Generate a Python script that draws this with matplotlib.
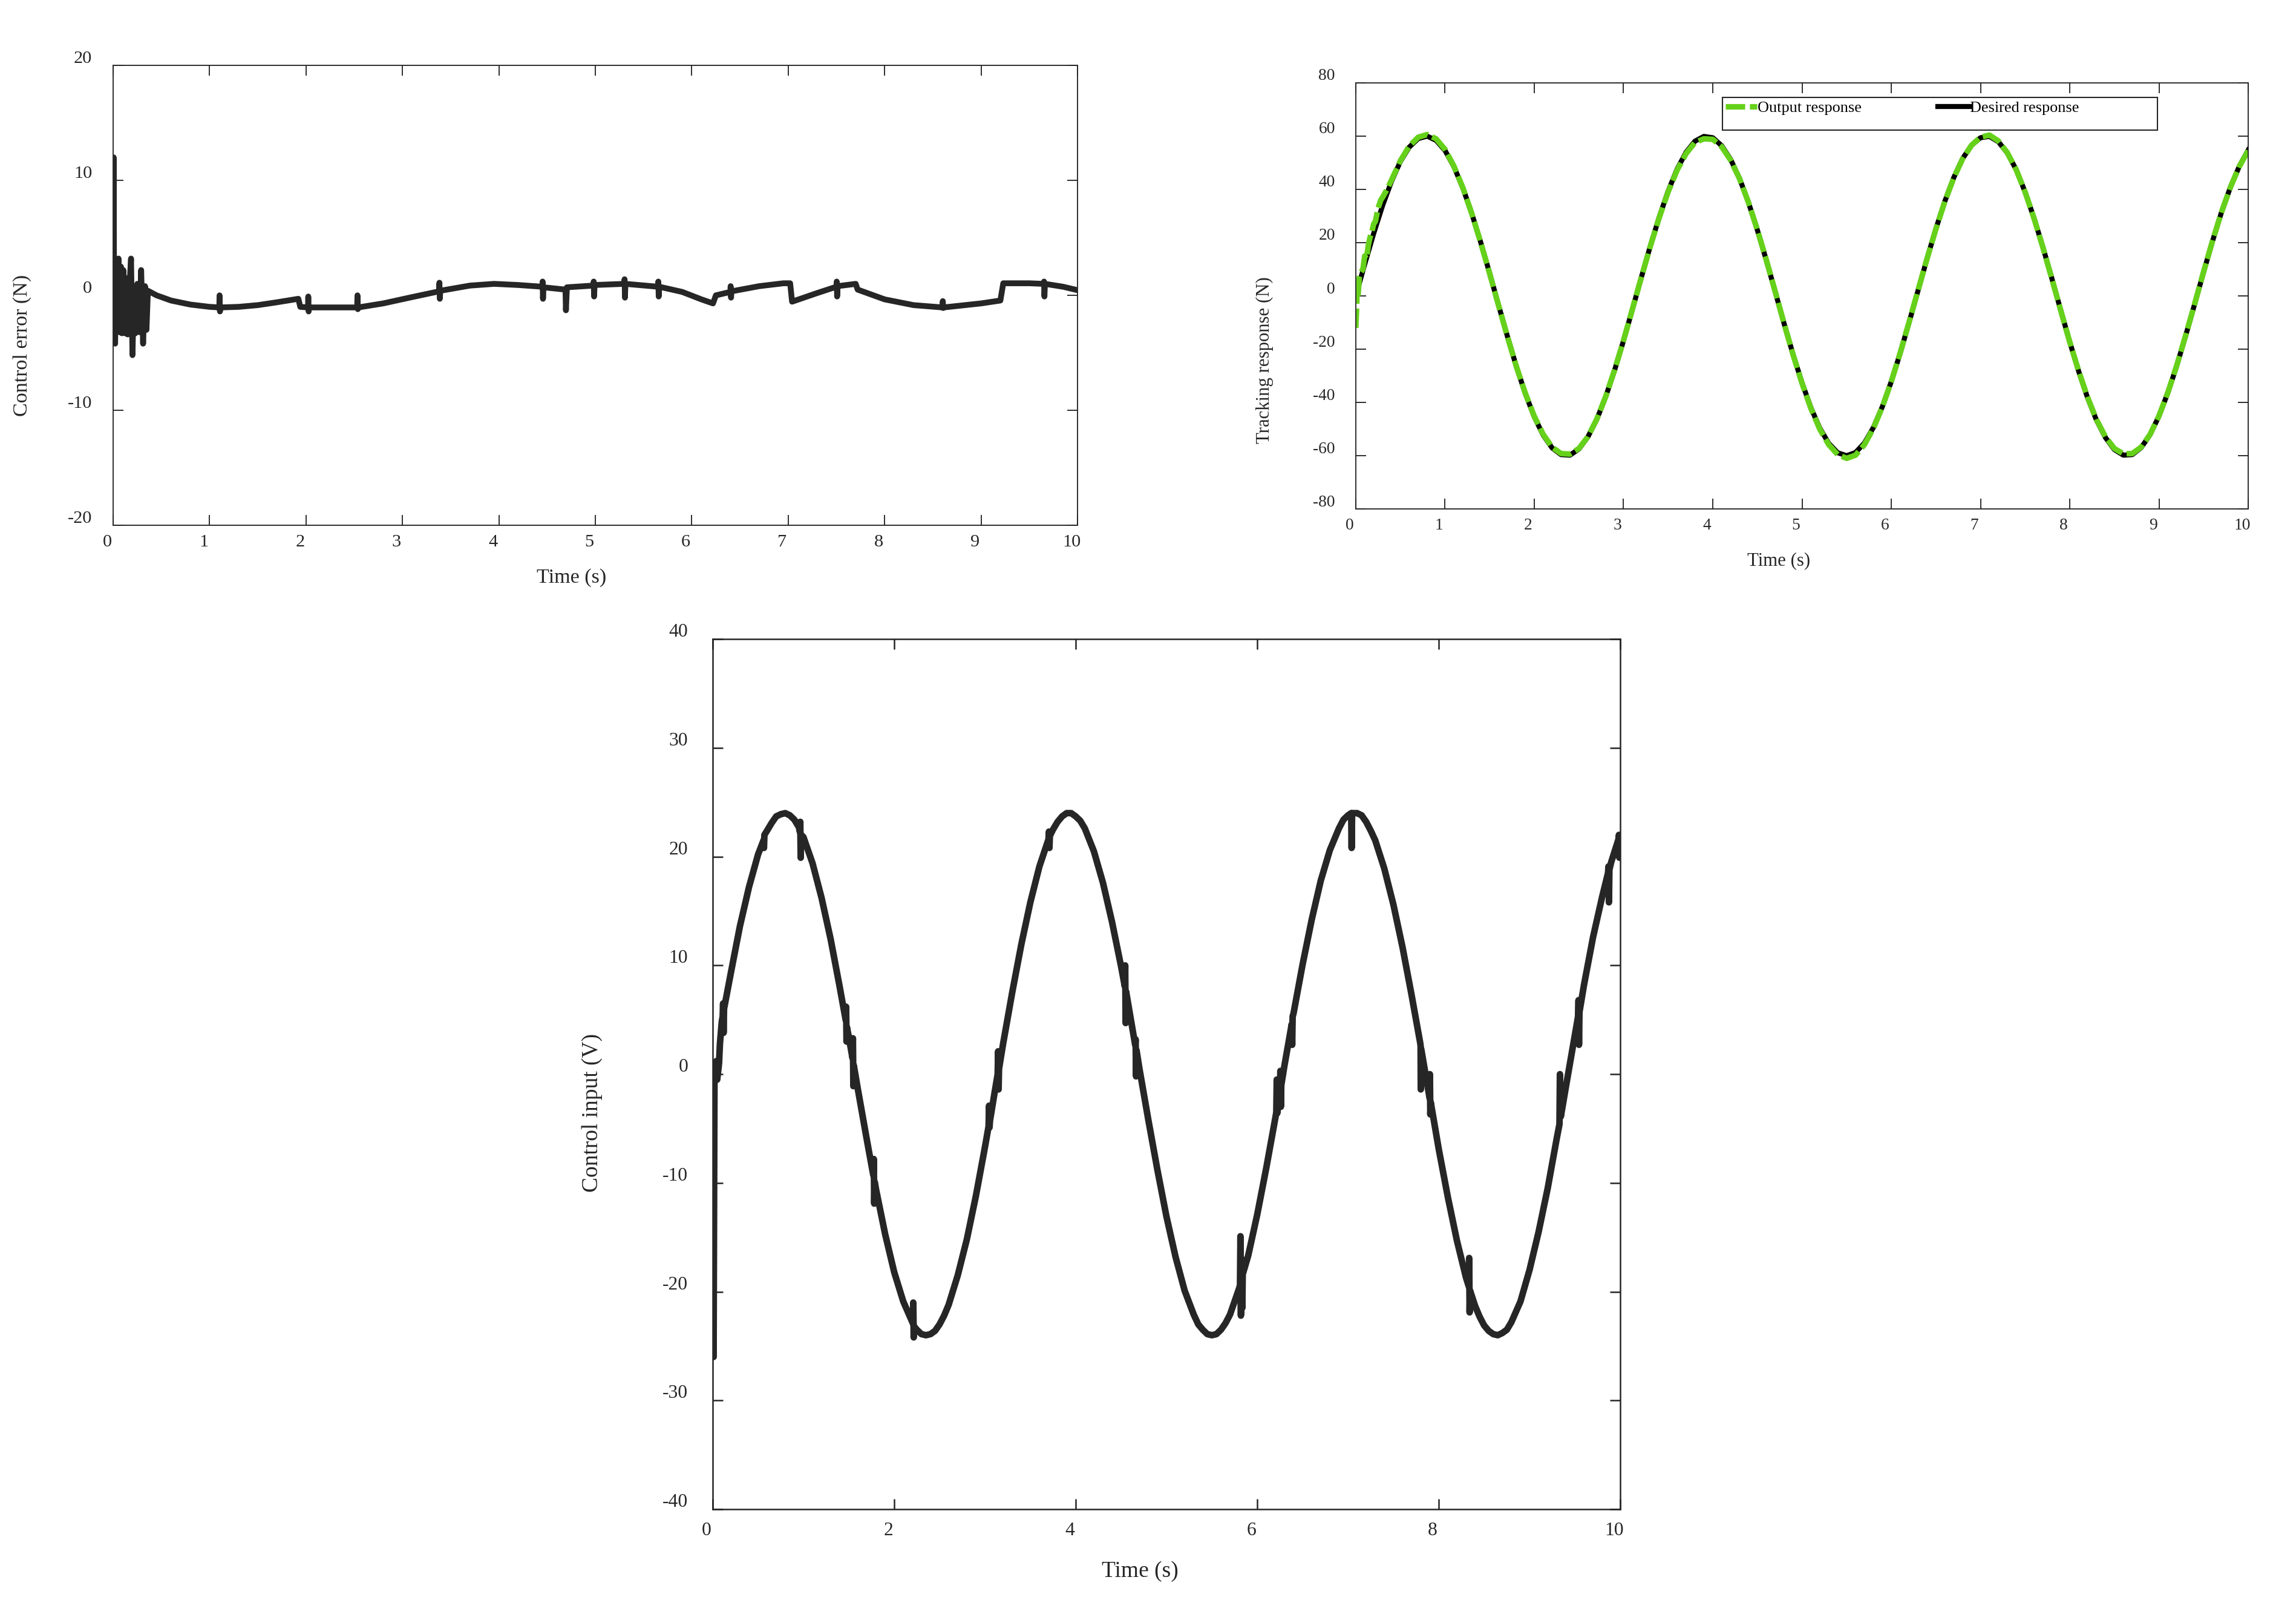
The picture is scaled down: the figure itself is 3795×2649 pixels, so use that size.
import numpy as np
import matplotlib
matplotlib.use('Agg')
import matplotlib.pyplot as plt
import matplotlib.transforms as mtransforms
from matplotlib.patches import Rectangle

plt.rcParams['font.family'] = ['Liberation Serif', 'DejaVu Serif']
plt.rcParams['axes.unicode_minus'] = False

ink = '#262626'
green = '#66d11a'

# ---- control error (top left) ----
err_time = [0.000, 0.005, 0.010, 0.020, 0.030, 0.040, 0.055, 0.065, 0.080, 0.090,
            0.105, 0.120, 0.135, 0.150, 0.170, 0.185, 0.200, 0.215, 0.230, 0.250,
            0.270, 0.290, 0.310, 0.330, 0.345, 0.360, 0.45, 0.6, 0.8, 1.0,
            1.100, 1.103, 1.107, 1.112, 1.3, 1.5, 1.7, 1.92, 1.94, 2.02,
            2.023, 2.027, 2.032, 2.3, 2.530, 2.533, 2.537, 2.542, 2.8, 3.1,
            3.380, 3.383, 3.387, 3.392, 3.7, 3.95, 4.2, 4.450, 4.453, 4.457,
            4.462, 4.69, 4.695, 4.705, 4.98, 4.983, 4.987, 4.992, 5.3, 5.303,
            5.307, 5.312, 5.65, 5.653, 5.657, 5.662, 5.9, 6.1, 6.22, 6.25,
            6.4, 6.403, 6.407, 6.412, 6.7, 6.95, 7.02, 7.04, 7.3, 7.5,
            7.503, 7.507, 7.512, 7.7, 7.72, 8.0, 8.3, 8.6, 8.603, 8.607,
            8.612, 9.0, 9.2, 9.23, 9.5, 9.65, 9.653, 9.657, 9.662, 9.85, 10.0]
err_value = [0.0, 12.0, -3.0, -4.2, 2.0, -3.2, 3.2, -3.2, 2.5, -3.3,
             2.2, -3.3, 1.5, -3.4, 1.0, 3.2, -5.2, 0.5, -3.3, 1.0,
             -3.2, 2.2, -4.2, 0.8, -3.0, 0.4, 0.0, -0.45, -0.8, -1.0,
             -1.05, 0.0, -1.4, -1.05, -1.0, -0.85, -0.6, -0.3, -1.0, -1.05,
             -0.1, -1.4, -1.05, -1.05, -1.05, 0.0, -1.2, -1.05, -0.7, -0.15,
             0.35, 1.1, -0.3, 0.4, 0.85, 1.0, 0.9, 0.75, 1.2, -0.3,
             0.7, 0.5, -1.3, 0.7, 0.85, 1.2, -0.1, 0.9, 1.0, 1.4,
             -0.2, 1.0, 0.75, 1.2, -0.1, 0.75, 0.3, -0.35, -0.7, 0.0,
             0.3, 0.8, -0.2, 0.35, 0.8, 1.05, 1.05, -0.55, 0.2, 0.75,
             1.2, -0.1, 0.8, 1.0, 0.5, -0.35, -0.85, -1.05, -0.5, -1.1,
             -1.05, -0.7, -0.45, 1.05, 1.05, 1.0, 1.2, -0.1, 1.0, 0.75, 0.45]

# ---- tracking response (top right) ----
grid_time = np.linspace(0, 10, 101)
desired = [0.0, 11.9, 23.4, 33.9, 43.0, 50.5, 55.9, 59.1, 60.0, 58.4,
           54.6, 48.5, 40.5, 30.9, 20.1, 8.5, -3.5, -15.3, -26.6, -36.7,
           -45.4, -52.3, -57.1, -59.6, -59.8, -57.5, -53.0, -46.4, -37.9, -27.9,
           -16.8, -5.0, 7.0, 18.7, 29.6, 39.4, 47.6, 53.9, 58.1, 59.9,
           59.4, 56.4, 51.3, 44.1, 35.1, 24.7, 13.4, 1.5, -10.5, -22.0,
           -32.6, -42.0, -49.7, -55.4, -58.9, -60.0, -58.8, -55.2, -49.4, -41.6,
           -32.2, -21.5, -9.9, 2.0, 13.9, 25.2, 35.5, 44.4, 51.6, 56.6,
           59.4, 59.9, 57.9, 53.7, 47.4, 39.0, 29.2, 18.2, 6.5, -5.5,
           -17.3, -28.3, -38.3, -46.7, -53.2, -57.7, -59.8, -59.6, -57.0, -52.1,
           -45.1, -36.3, -26.1, -14.8, -3.0, 9.0, 20.6, 31.4, 40.8, 48.7, 54.8]

out_time_start = [0.0, 0.01, 0.015, 0.025, 0.04, 0.06, 0.08, 0.1, 0.12, 0.14,
                  0.16, 0.18, 0.2, 0.22, 0.25, 0.28, 0.3, 0.35, 0.4]
out_value_start = [-12.0, -4.0, 3.0, 0.0, 7.0, 9.0, 10.0, 15.0, 14.0, 19.0,
                   22.0, 24.0, 27.0, 28.0, 33.0, 36.0, 37.0, 40.0, 43.5]
out_value_rest = [50.8, 56.3, 59.6, 60.6, 59.0, 55.0, 48.7, 40.6, 30.9, 20.0,
                  8.4, -3.6, -15.4, -26.6, -36.6, -45.2, -52.0, -56.8, -59.2, -59.4,
                  -57.3, -52.9, -46.3, -37.8, -27.8, -16.7, -4.9, 7.0, 18.6, 29.4,
                  39.1, 47.2, 53.4, 57.6, 59.0, 58.8, 56.0, 51.0, 44.0, 35.1,
                  24.8, 13.5, 1.6, -10.5, -22.1, -32.8, -42.3, -50.1, -55.9, -59.6,
                  -61.0, -59.8, -55.8, -49.7, -41.7, -32.2, -21.4, -9.8, 2.1, 13.9,
                  25.1, 35.4, 44.3, 51.5, 56.6, 59.6, 60.4, 58.2, 53.8, 47.4,
                  39.0, 29.1, 18.1, 6.4, -5.6, -17.3, -28.2, -38.1, -46.5, -52.9,
                  -57.3, -59.3, -59.2, -56.8, -52.0, -45.0, -36.2, -26.0, -14.7, -2.9,
                  9.1, 20.7, 31.4, 40.8, 48.6, 54.6]
out_time = np.concatenate([out_time_start, grid_time[5:]])
out_value = np.concatenate([out_value_start, out_value_rest])

# ---- control input (bottom) ----
u_grid = [0.0, 4.8, 9.3, 13.6, 17.2, 20.2, 22.4, 23.7, 24.0, 23.4,
          21.8, 19.4, 16.2, 12.4, 8.0, 3.4, -1.4, -6.1, -10.6, -14.7,
          -18.2, -20.9, -22.8, -23.9, -23.9, -23.0, -21.2, -18.5, -15.2, -11.2,
          -6.7, -2.0, 2.8, 7.5, 11.9, 15.8, 19.1, 21.6, 23.2, 24.0,
          23.7, 22.6, 20.5, 17.6, 14.0, 9.9, 5.4, 0.6, -4.2, -8.8,
          -13.1, -16.8, -19.9, -22.1, -23.5, -24.0, -23.5, -22.1, -19.7, -16.7,
          -12.9, -8.6, -4.0, 0.8, 5.6, 10.1, 14.2, 17.8, 20.6, 22.6,
          23.8, 24.0, 23.2, 21.5, 18.9, 15.6, 11.7, 7.3, 2.6, -2.2,
          -6.9, -11.3, -15.3, -18.7, -21.3, -23.1, -23.9, -23.8, -22.8, -20.9,
          -18.0, -14.5, -10.5, -5.9, -1.2, 3.6, 8.2, 12.6, 16.3, 19.5, 21.9]
# extra readings around the crests and troughs
crest_time = [0.65, 0.75, 0.85, 0.95, 2.25, 2.35, 2.45, 2.55,
              3.75, 3.85, 3.95, 4.05, 5.35, 5.45, 5.55, 5.65,
              6.95, 7.05, 7.15, 7.25, 8.45, 8.55, 8.65, 8.75]
crest_value = [23.1, 23.9, 23.8, 22.7, -23.5, -24.0, -23.6, -22.2,
               22.5, 23.7, 24.0, 23.3, -23.0, -23.9, -23.9, -22.9,
               23.4, 24.0, 23.8, 22.4, -22.3, -23.6, -24.0, -23.5]
glitch_time = [0.01, 0.02, 0.04, 0.05, 0.07, 0.08, 0.11, 0.115, 0.12, 0.125,
               0.56, 0.565, 0.57, 0.96, 0.965, 0.97, 0.975,
               1.465, 1.47, 1.475, 1.48, 1.54, 1.545, 1.55, 1.555,
               1.77, 1.775, 1.78, 1.785, 2.205, 2.21, 2.215, 2.22,
               3.04, 3.045, 3.05, 3.055, 3.14, 3.145, 3.15, 3.155,
               3.7, 3.705, 3.71, 3.715, 4.54, 4.545, 4.55, 4.555,
               4.655, 4.66, 4.665, 4.67, 5.81, 5.815, 5.82, 5.825, 5.83, 5.835, 5.84,
               6.21, 6.215, 6.22, 6.25, 6.255, 6.26, 6.265, 6.38, 6.385, 6.39,
               7.035, 7.04, 7.045, 7.795, 7.802, 7.807, 7.895, 7.902, 7.907, 7.912,
               8.33, 8.335, 8.34, 8.345, 9.33, 9.335, 9.34, 9.345,
               9.535, 9.54, 9.545, 9.55, 9.865, 9.87, 9.875, 9.88,
               9.98, 9.985, 9.99, 9.995]
glitch_value = [-26.0, 0.0, 1.2, -0.5, 1.0, 2.8, 5.3, 6.5, 3.8, 6.0,
                21.5, 20.8, 22.0, 22.3, 23.2, 19.9, 22.0,
                5.0, 6.2, 3.0, 4.3, 1.5, 3.3, -1.1, 0.8,
                -9.3, -7.8, -11.9, -9.9, -22.9, -21.0, -24.2, -23.2,
                -4.8, -2.9, -4.9, -4.3, 0.0, 2.1, -1.4, 0.5,
                21.6, 22.3, 20.8, 21.9, 8.1, 10.0, 4.7, 7.6,
                2.7, 3.2, -0.2, 2.2, -19.4, -14.9, -22.2, -18.6, -17.0, -21.5, -18.4,
                -3.5, -0.5, -3.6, -1.6, 0.3, -3.0, -1.0, 4.6, 2.7, 5.3,
                24.0, 20.8, 23.9, 2.9, -1.4, 2.3, -2.0, 0.0, -3.7, -2.6,
                -19.5, -16.9, -21.9, -19.9, -4.6, 0.0, -3.2, -3.9,
                5.3, 6.8, 2.7, 5.7, 18.5, 19.1, 15.8, 18.8,
                21.6, 22.0, 19.9, 21.5]
u_time = np.concatenate([grid_time, crest_time, glitch_time])
u_value = np.concatenate([u_grid, crest_value, glitch_value])
order = np.argsort(u_time, kind='stable')
u_time, u_value = u_time[order], u_value[order]

fig = plt.figure(figsize=(12.65, 8.83), dpi=300)


def style(ax, xticks, yticks, ylim, fs, lw, xpad, ypad, yshift):
    ax.set_xlim(0, 10)
    ax.set_ylim(*ylim)
    ax.set_xticks(xticks)
    ax.set_yticks(yticks)
    ax.tick_params(direction='in', top=True, right=True, length=4, width=lw,
                   color=ink, labelcolor=ink, labelsize=fs)
    ax.tick_params(axis='x', pad=xpad)
    ax.tick_params(axis='y', pad=ypad)
    for s in ax.spines.values():
        s.set_linewidth(lw)
        s.set_color(ink)
    up = mtransforms.ScaledTranslation(0, yshift / 300, fig.dpi_scale_trans)
    for lab in ax.get_yticklabels():
        lab.set_transform(lab.get_transform() + up)
    left = mtransforms.ScaledTranslation(-10 / 300, 0, fig.dpi_scale_trans)
    for lab in ax.get_xticklabels():
        lab.set_transform(lab.get_transform() + left)


# top left
ax1 = fig.add_axes([0.0493, 0.6723, 0.4200, 0.2869])
ax1.plot(err_time, err_value, color=ink, lw=2.3, solid_joinstyle='round',
         solid_capstyle='round')
style(ax1, range(0, 11), [-20, -10, 0, 10, 20], (-20, 20), 7.3, 0.45, 3.5, 8.4, 14)
ax1.set_xlabel('Time (s)', fontsize=8.2, color=ink, va='center')
ax1.set_ylabel('Control error (N)', fontsize=8.2, color=ink, va='center')
ax1.xaxis.set_label_coords(0.475, -0.1145)
ax1.yaxis.set_label_coords(-0.0947, 0.391)

# top right
ax2 = fig.add_axes([0.5905, 0.6825, 0.3887, 0.2658])
ax2.plot(grid_time, desired, color='black', lw=2.0, label='Desired response')
ax2.plot(out_time, out_value, color=green, lw=2.2, linestyle=(0, (3.5, 0.85)),
         label='Output response')
style(ax2, range(0, 11), range(-80, 81, 20), (-80, 80), 6.6, 0.45, 3.5, 8.2, 14)
ax2.set_xlabel('Time (s)', fontsize=7.4, color=ink, va='center')
ax2.set_ylabel('Tracking response (N)', fontsize=7.4, color=ink, va='center')
ax2.xaxis.set_label_coords(0.474, -0.122)
ax2.yaxis.set_label_coords(-0.1017, 0.349)
ax2.add_patch(Rectangle((0.4108, 0.889), 0.4875, 0.077, transform=ax2.transAxes,
                        facecolor='white', edgecolor=ink, lw=0.5, zorder=3))
handles, labels = ax2.get_legend_handles_labels()
ax2.legend(handles[::-1], labels[::-1], ncol=2, loc='upper left',
           bbox_to_anchor=(0.4142, 0.958), frameon=False, fontsize=6.3,
           handlelength=1.98, handletextpad=0.05, columnspacing=4.8,
           borderpad=0, borderaxespad=0).set_zorder(4)

# bottom
ax3 = fig.add_axes([0.3104, 0.0585, 0.3953, 0.5428])
ax3.plot(u_time, u_value, color=ink, lw=2.6, solid_joinstyle='round')
style(ax3, range(0, 11, 2), range(-40, 41, 10), (-40, 40), 7.6, 0.6, 5, 9.8, 15)
ax3.set_xlabel('Time (s)', fontsize=9, color=ink, va='center')
ax3.set_ylabel('Control input (V)', fontsize=9, color=ink, va='center')
ax3.xaxis.set_label_coords(0.471, -0.0716)
ax3.yaxis.set_label_coords(-0.133, 0.4555)

fig.savefig('out.png', dpi=300)
